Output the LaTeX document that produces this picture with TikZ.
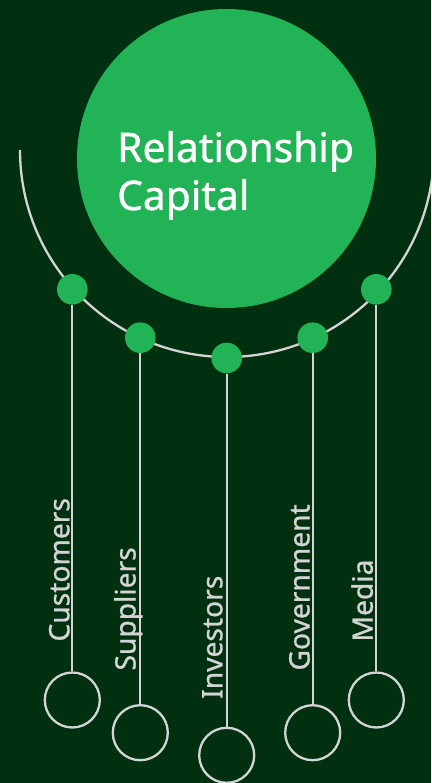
\documentclass[tikz,border=0pt]{standalone}
\usepackage{fontspec}
\setmainfont{Noto Sans}[FakeBold=0.9]
\definecolor{bg}{HTML}{00300F}
\definecolor{gr}{HTML}{22B357}
\definecolor{ln}{HTML}{D4D4D4}
\begin{document}
\begin{tikzpicture}[x=1pt,y=-1pt,
  dot/.style={circle,fill=gr,minimum size=30.6pt,inner sep=0pt},
  ring/.style={circle,draw=ln,line width=2.3pt,minimum size=55pt,inner sep=0pt},
  conn/.style={draw=ln,line width=2.3pt},
  lab/.style={rotate=90,anchor=base west,text=ln,font=\fontsize{28.2}{34}\selectfont,inner sep=0pt},
  title/.style={anchor=base west,text=white,font=\fontsize{40.7}{48}\selectfont,inner sep=0pt}]
\fill[bg] (0,0) rectangle (431,783);
\useasboundingbox (0,0) rectangle (431,783);
\clip (0,0) rectangle (431,783);
\node[circle,fill=gr,minimum size=299pt,inner sep=0pt] (big) at (226.5,158.5) {};
\node[title] (t1) at (117,162) {Relationship};
\node[title] (t2) at (117,210) {Capital};
\draw[ln,line width=2.3pt] (20,150) arc[start angle=180,end angle=0,radius=207];
% dots
\node[dot] (d1) at (72.3,289.3) {};
\node[dot] (d2) at (140.3,337.7) {};
\node[dot] (d3) at (226.7,358) {};
\node[dot] (d4) at (312.7,337.7) {};
\node[dot] (d5) at (376.3,289.3) {};
% labels
\node[lab] (l1) at (69.3,641.7) {Customers};
\node[lab] (l2) at (135.5,670.7) {Suppliers};
\node[lab] (l3) at (222.3,699) {Investors};
\node[lab] (l4) at (309.5,670.7) {Government};
\node[lab] (l5) at (372.7,641.7) {Media};
% rings
\node[ring] (c1) at (72.3,700) {};
\node[ring] (c2) at (140.3,732.7) {};
\node[ring] (c3) at (226.7,755.3) {};
\node[ring] (c4) at (312.7,732.7) {};
\node[ring] (c5) at (376.3,700) {};
\draw[conn] (d1) -- (c1);
\draw[conn] (d2) -- (c2);
\draw[conn] (d3) -- (c3);
\draw[conn] (d4) -- (c4);
\draw[conn] (d5) -- (c5);
\end{tikzpicture}
\end{document}
